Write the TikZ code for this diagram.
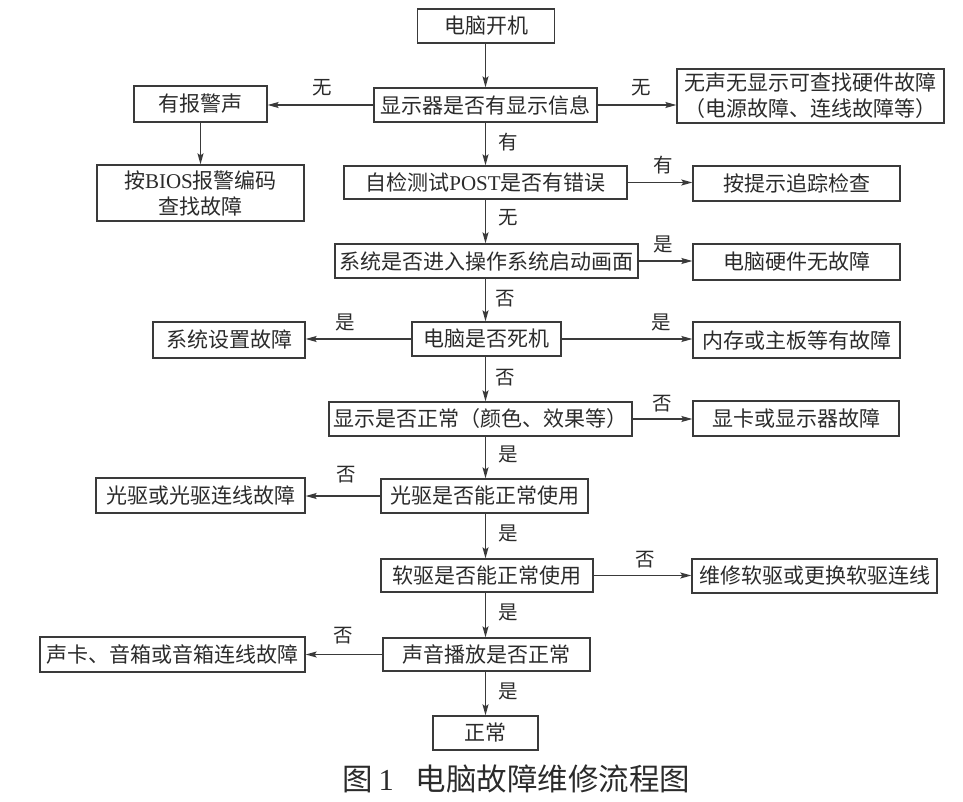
\documentclass[tikz,border=0pt]{standalone}
\usepackage{fontspec}
\setmainfont{Noto Sans CJK SC}
\newfontfamily\lat{Liberation Serif}
\usetikzlibrary{arrows.meta}
\definecolor{ink}{HTML}{2B2B2B}
\definecolor{ln}{HTML}{3A3A3A}
\begin{document}
\begin{tikzpicture}[x=1pt,y=-1pt,
  box/.style={draw=ln, line width=1.3pt, inner sep=0pt, text=ink, align=center,
    font=\fontsize{21}{26}\selectfont},
  lbl/.style={text=ink, inner sep=0pt, font=\fontsize{19.5}{22}\selectfont},
  arr/.style={draw=ln, line width=1.2pt, -{Stealth[length=11pt,width=6pt,inset=2pt]}}]
\path[use as bounding box] (0,0) rectangle (963,802);
\coordinate (sp) at (485.5,0);
% main column
\node[box, minimum width=137pt, minimum height=34pt] (n1) at (486,26) {电脑开机};
\node[box, minimum width=223pt, minimum height=34pt] (n2) at (485.5,105) {显示器是否有显示信息};
\node[box, minimum width=283pt, minimum height=33pt] (n3) at (485.5,182.5) {自检测试{\lat POST}是否有错误};
\node[box, minimum width=303pt, minimum height=34pt] (n4) at (486.5,261) {系统是否进入操作系统启动画面};
\node[box, minimum width=149pt, minimum height=34pt] (n5) at (486.5,339) {电脑是否死机};
\node[box, minimum width=303pt, minimum height=34pt] (n6) at (480.5,419) {显示是否正常（颜色、效果等）};
\node[box, minimum width=207pt, minimum height=34pt] (n7) at (484.5,496) {光驱是否能正常使用};
\node[box, minimum width=212pt, minimum height=33pt] (n8) at (487,575.5) {软驱是否能正常使用};
\node[box, minimum width=207pt, minimum height=33pt] (n9) at (486.5,654.5) {声音播放是否正常};
\node[box, minimum width=105pt, minimum height=34pt] (n10) at (485.5,733) {正常};
% side boxes
\node[box, minimum width=133pt, minimum height=36pt] (l2) at (200.5,104) {有报警声};
\node[box, minimum width=267pt, minimum height=54pt] (r2) at (810.5,96) {无声无显示可查找硬件故障\\（电源故障、连线故障等）};
\node[box, minimum width=207pt, minimum height=56pt] (l3) at (200.5,193) {按{\lat BIOS}报警编码\\查找故障};
\node[box, minimum width=207pt, minimum height=35pt] (r3) at (796.5,183.5) {按提示追踪检查};
\node[box, minimum width=207pt, minimum height=36pt] (r4) at (796.5,262) {电脑硬件无故障};
\node[box, minimum width=152pt, minimum height=36pt] (l5) at (229,340) {系统设置故障};
\node[box, minimum width=207pt, minimum height=36pt] (r5) at (796.5,340) {内存或主板等有故障};
\node[box, minimum width=206pt, minimum height=35pt] (r6) at (796,418.5) {显卡或显示器故障};
\node[box, minimum width=209pt, minimum height=35pt] (l7) at (200.5,495.5) {光驱或光驱连线故障};
\node[box, minimum width=245pt, minimum height=34pt] (r8) at (814.5,576) {维修软驱或更换软驱连线};
\node[box, minimum width=265pt, minimum height=35pt] (l9) at (172.5,654.5) {声卡、音箱或音箱连线故障};
% vertical arrows
\foreach \a/\b in {n1/n2,n2/n3,n3/n4,n4/n5,n5/n6,n6/n7,n7/n8,n8/n9,n9/n10}
  \draw[arr] (\a.south -| sp) -- (\b.north -| sp);
\draw[arr] (l2.south) -- (l3.north);
% horizontal arrows
\draw[arr] (n2.west) -- (n2.west -| l2.east);
\draw[arr] (n2.east) -- (n2.east -| r2.west);
\draw[arr] (n3.east) -- (n3.east -| r3.west);
\draw[arr] (n4.east) -- (n4.east -| r4.west);
\draw[arr] (n5.west) -- (n5.west -| l5.east);
\draw[arr] (n5.east) -- (n5.east -| r5.west);
\draw[arr] (n6.east) -- (n6.east -| r6.west);
\draw[arr] (n7.west) -- (n7.west -| l7.east);
\draw[arr] (n8.east) -- (n8.east -| r8.west);
\draw[arr] (n9.west) -- (n9.west -| l9.east);
% labels
\node[lbl] (a1) at (322,88) {无};
\node[lbl] (a2) at (641,88) {无};
\node[lbl] (a3) at (508,142) {有};
\node[lbl] (a4) at (663,165) {有};
\node[lbl] (a5) at (508,218) {无};
\node[lbl] (a6) at (663,244) {是};
\node[lbl] (a7) at (505,299) {否};
\node[lbl] (a8) at (345,322) {是};
\node[lbl] (a9) at (661,322) {是};
\node[lbl] (a10) at (505,378) {否};
\node[lbl] (a11) at (662,404) {否};
\node[lbl] (a12) at (508,454) {是};
\node[lbl] (a13) at (346,475) {否};
\node[lbl] (a14) at (508,533) {是};
\node[lbl] (a15) at (645,560) {否};
\node[lbl] (a16) at (508,612) {是};
\node[lbl] (a17) at (343,636) {否};
\node[lbl] (a18) at (508,691) {是};
% caption
\node[text=ink, inner sep=0pt, anchor=west, font=\fontsize{30.5}{34}\selectfont] (cap) at (342,779) {图\hspace{6pt}{\lat 1}\hspace{22pt}电脑故障维修流程图};
\end{tikzpicture}
\end{document}
